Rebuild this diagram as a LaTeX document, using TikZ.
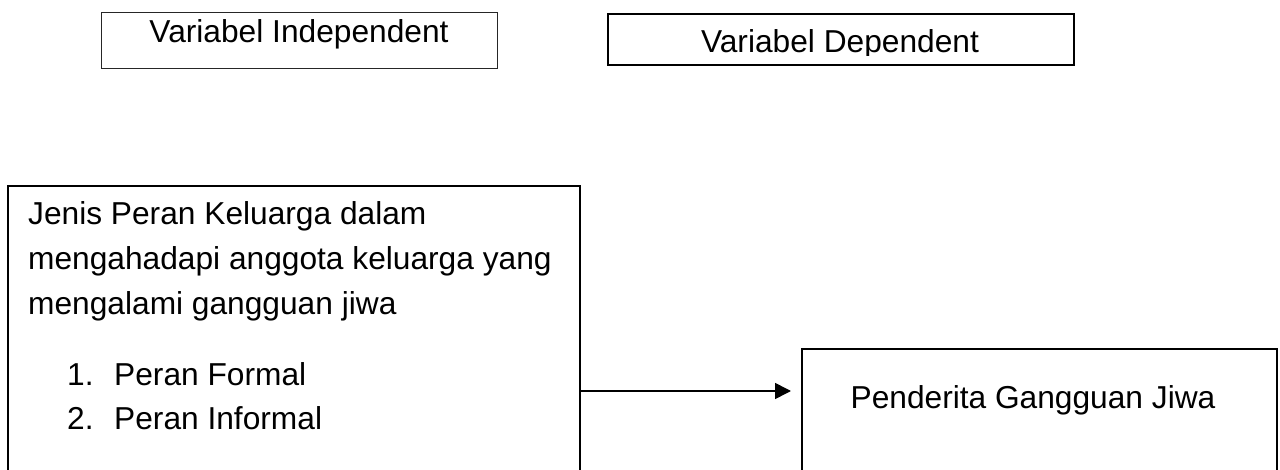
\documentclass[tikz,border=0pt]{standalone}
\usepackage{fontspec}
\setmainfont{Liberation Sans}
\usetikzlibrary{arrows.meta}
\begin{document}
\begin{tikzpicture}[x=1pt,y=-1pt,
  lbl/.style={font=\fontsize{31.7}{45}\selectfont, inner sep=0pt, anchor=base west},
  boxthin/.style={draw=black!85, line width=1.2pt, inner sep=0pt, anchor=north west},
  boxthick/.style={draw=black, line width=2pt, inner sep=0pt, anchor=north west},
  boxmid/.style={draw=black, line width=1.6pt, inner sep=0pt, anchor=north west},
  link/.style={draw=black, line width=1.6pt, -{Triangle[length=16pt,width=16pt]}}]
\useasboundingbox (0,0) rectangle (1280,470);
% top labels
\node[boxthin, minimum width=396pt, minimum height=56pt] (indepbox) at (101,12) {};
\node[lbl, anchor=base] (indeptxt) at (299,43) {Variabel Independent};
\node[boxthick, minimum width=466pt, minimum height=51pt] (depbox) at (607,13) {};
\begin{scope}
\clip (607,13) rectangle (1073,55.5);
\node[lbl, anchor=base] (deptxt) at (840,53) {Variabel Dependent};
\end{scope}
% left box
\node[boxmid, minimum width=572pt, minimum height=320pt] (leftbox) at (7,185) {};
\node[lbl] (l1) at (28,225) {Jenis Peran Keluarga dalam};
\node[lbl] (l2) at (28,270) {mengahadapi anggota keluarga yang};
\node[lbl] (l3) at (28,315) {mengalami gangguan jiwa};
\node[lbl] (n1) at (67,385) {1.};
\node[lbl] (i1) at (114,385) {Peran Formal};
\node[lbl] (n2) at (67,429) {2.};
\node[lbl] (i2) at (114,429) {Peran Informal};
% right box
\node[boxthick, minimum width=475pt, minimum height=160pt] (rightbox) at (801,348) {};
\node[lbl, anchor=base] (righttxt) at (1033,408) {Penderita Gangguan Jiwa};
% arrow
\coordinate (ay) at (0,391);
\draw[link, shorten >=10pt] (leftbox.east |- ay) -- (rightbox.west |- ay);
\end{tikzpicture}
\end{document}
